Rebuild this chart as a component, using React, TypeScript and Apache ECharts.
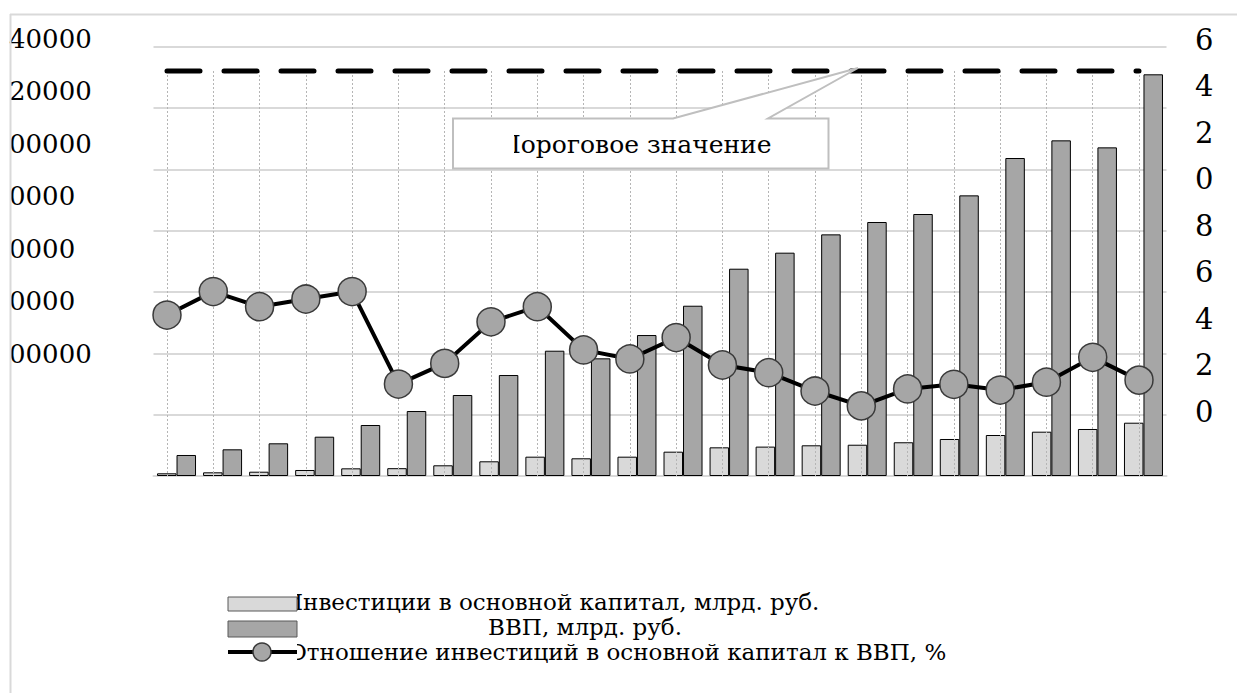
import React, { useEffect, useRef } from 'react';
import * as echarts from 'echarts';

// Categories (years) – the axis labels are not shown in the picture
const years = [
  '2000', '2001', '2002', '2003', '2004', '2005', '2006', '2007', '2008', '2009', '2010',
  '2011', '2012', '2013', '2014', '2015', '2016', '2017', '2018', '2019', '2020', '2021',
];

// Investment in fixed capital, bn rub
const investment = [
  880, 1200, 1400, 1960, 2500, 2550, 3490, 4790, 6300, 5770, 6300,
  7930, 9350, 9580, 10010, 10200, 11000, 12070, 13370, 14450, 15330, 17380,
];

// GDP, bn rub
const gdp = [
  6850, 8700, 10660, 12820, 16630, 21190, 26410, 32930, 40860, 38370, 45970,
  55530, 67600, 72830, 78800, 82830, 85440, 91520, 103700, 109460, 107170, 131000,
];

// Ratio of investment to GDP, % (read against the right axis)
const ratio = [
  14.16, 15.17, 14.52, 14.85, 15.17, 11.19, 12.08, 13.87, 14.52, 12.66, 12.27,
  13.19, 12.01, 11.68, 10.89, 10.25, 10.98, 11.18, 10.93, 11.27, 12.34, 11.36,
];

const THRESHOLD = 24.67;
const threshold = years.map(() => THRESHOLD);

// Tick labels as they appear (clipped) in the picture, bottom to top
const leftTickLabels = ['00000', '0000', '0000', '0000', '00000', '20000', '40000'];

const seriesNames = [
  'Инвестиции в основной капитал, млрд. руб.',
  'ВВП, млрд. руб.',
  'Отношение инвестиций в основной капитал к ВВП, %',
];
const thresholdName = 'Пороговое значение';

const FONT = 'DejaVu Serif';

export default function App() {
  const ref = useRef<HTMLDivElement>(null);

  useEffect(() => {
    if (!ref.current) return;
    const chart = echarts.init(ref.current, null, { renderer: 'svg' });
    const txt = (text: string, x: number, y: number, size: number, align: string, z: number) => ({
      type: 'text', z, x, y,
      style: {
        text, fontSize: size, fontFamily: FONT, fill: '#000',
        textAlign: align, textVerticalAlign: 'middle', lineHeight: 24,
      },
    });
    chart.setOption({
      animation: false,
      backgroundColor: '#ffffff',
      textStyle: { fontFamily: FONT },
      grid: [
        { left: 153.5, top: 46.7, width: 1013, height: 429.3, outerBoundsMode: 'none' },
        { left: 167, top: 40, width: 972, height: 371.7, outerBoundsMode: 'none' },
        { left: 167, top: 71, width: 972, height: 405, outerBoundsMode: 'none' },
        { left: 9, top: 38.8, width: 100, height: 315.2, outerBoundsMode: 'none' },
      ],
      xAxis: [
        {
          gridIndex: 0, type: 'category', data: years,
          axisLine: { lineStyle: { color: '#d9d9d9', width: 2 } },
          axisTick: { show: false }, axisLabel: { show: false }, splitLine: { show: false },
        },
        {
          gridIndex: 1, type: 'category', data: years, boundaryGap: false,
          axisLine: { show: false }, axisTick: { show: false }, axisLabel: { show: false }, splitLine: { show: false },
        },
        {
          gridIndex: 2, type: 'category', data: years, boundaryGap: false, z: 3,
          axisLine: { show: false }, axisTick: { show: false }, axisLabel: { show: false },
          splitLine: { show: true, interval: 0, lineStyle: { color: '#b5b5b5', width: 1, type: [2, 2] } },
        },
        { gridIndex: 3, type: 'value', min: 0, max: 1, show: false },
      ],
      yAxis: [
        {
          gridIndex: 0, type: 'value', min: 0, max: 140000, interval: 20000,
          axisLine: { show: false }, axisTick: { show: false }, axisLabel: { show: false },
          splitLine: { show: true, lineStyle: { color: '#d9d9d9', width: 2 } },
        },
        {
          gridIndex: 1, type: 'value', position: 'right', min: 10, max: 26, interval: 2,
          axisLine: { show: false }, axisTick: { show: false }, splitLine: { show: false },
          axisLabel: {
            formatter: (v: number) => String(Math.round(v) % 10),
            fontSize: 29, color: '#000', fontFamily: FONT, margin: 56,
          },
        },
        { gridIndex: 2, type: 'value', min: 0, max: 1, show: false },
        {
          gridIndex: 3, type: 'category', data: leftTickLabels, boundaryGap: false,
          axisLine: { show: false }, axisTick: { show: false }, splitLine: { show: false },
          axisLabel: {
            inside: true, margin: 0, interval: 0, align: 'left',
            fontSize: 26, color: '#000', fontFamily: FONT,
          },
        },
      ],
      series: [
        {
          name: seriesNames[0], type: 'bar', xAxisIndex: 0, yAxisIndex: 0, data: investment,
          barWidth: 19.5, barGap: '0%',
          itemStyle: { color: '#d9d9d9', borderColor: '#000', borderWidth: 1 },
        },
        {
          name: seriesNames[1], type: 'bar', xAxisIndex: 0, yAxisIndex: 0, data: gdp,
          barWidth: 19.5, barGap: '0%',
          itemStyle: { color: '#a6a6a6', borderColor: '#000', borderWidth: 1 },
        },
        {
          name: thresholdName, type: 'line', xAxisIndex: 1, yAxisIndex: 1, data: threshold,
          symbol: 'none', z: 4,
          lineStyle: { color: '#000', width: 5, type: [33, 24], cap: 'round' },
        },
        {
          name: seriesNames[2], type: 'line', xAxisIndex: 1, yAxisIndex: 1, data: ratio,
          symbol: 'circle', symbolSize: 28, z: 5,
          itemStyle: { color: '#a6a6a6', borderColor: '#3a3a3a', borderWidth: 1.5 },
          lineStyle: { color: '#000', width: 4 },
        },
      ],
      graphic: [
        { type: 'line', z: 50, shape: { x1: 10, y1: 14.5, x2: 1237, y2: 14.5 }, style: { stroke: '#d9d9d9', lineWidth: 2 } },
        { type: 'line', z: 50, shape: { x1: 10.5, y1: 14, x2: 10.5, y2: 693 }, style: { stroke: '#d9d9d9', lineWidth: 2 } },
        {
          type: 'polygon', z: 100,
          shape: { points: [[453, 118.5], [673, 118.5], [858, 68], [768, 118.5], [828.5, 118.5], [828.5, 168.5], [453, 168.5]] },
          style: { fill: '#ffffff', stroke: '#bfbfbf', lineWidth: 2 },
        },
        txt(thresholdName, 499, 144, 25, 'left', 101),
        { type: 'rect', z: 102, shape: { x: 455, y: 120, width: 59, height: 47 }, style: { fill: '#ffffff' } },
        txt(seriesNames[0], 283, 602, 23, 'left', 101),
        txt(seriesNames[1], 585, 627, 23, 'center', 101),
        txt(seriesNames[2], 288, 652, 23, 'left', 101),
        { type: 'rect', z: 102, shape: { x: 200, y: 585, width: 97, height: 85 }, style: { fill: '#ffffff' } },
        { type: 'rect', z: 103, shape: { x: 228, y: 597, width: 69, height: 14 }, style: { fill: '#d9d9d9', stroke: '#595959', lineWidth: 1 } },
        { type: 'rect', z: 103, shape: { x: 228, y: 621, width: 69, height: 16 }, style: { fill: '#a6a6a6', stroke: '#595959', lineWidth: 1 } },
        { type: 'line', z: 103, shape: { x1: 228, y1: 652, x2: 297, y2: 652 }, style: { stroke: '#000', lineWidth: 4 } },
        { type: 'circle', z: 104, shape: { cx: 262, cy: 652, r: 9 }, style: { fill: '#a6a6a6', stroke: '#3a3a3a', lineWidth: 1.5 } },
      ],
    });
    return () => chart.dispose();
  }, []);

  return (
    <div
      ref={ref}
      style={{ position: 'fixed', left: 0, top: 0, width: 1237, height: 693 }}
    />
  );
}
